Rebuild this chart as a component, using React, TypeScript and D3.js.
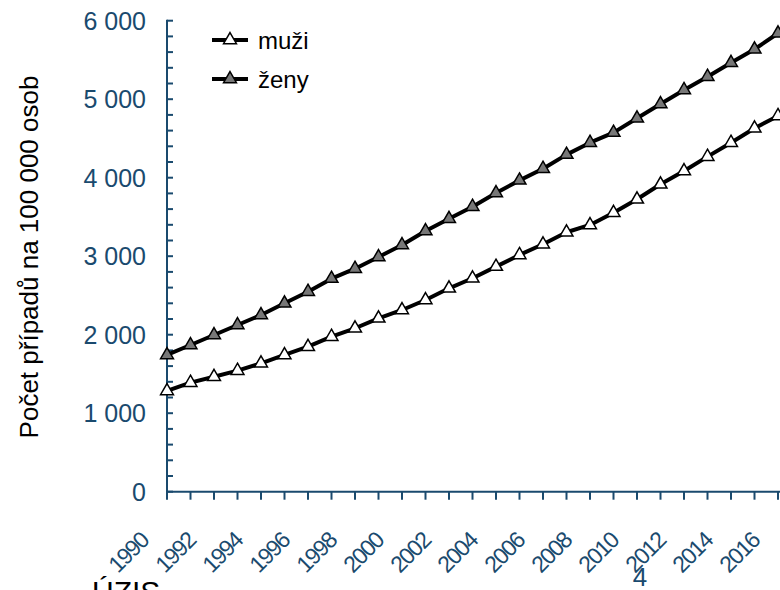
import React from 'react';
import * as d3 from 'd3';

const years = [1990, 1991, 1992, 1993, 1994, 1995, 1996, 1997, 1998, 1999, 2000, 2001, 2002, 2003, 2004, 2005, 2006, 2007, 2008, 2009, 2010, 2011, 2012, 2013, 2014, 2015, 2016];
const muzi = [1283, 1389, 1465, 1542, 1636, 1742, 1847, 1975, 2082, 2209, 2315, 2442, 2591, 2719, 2867, 3016, 3152, 3305, 3398, 3554, 3725, 3916, 4086, 4268, 4446, 4630, 4787];
const zeny = [1742, 1869, 1996, 2124, 2251, 2400, 2548, 2714, 2841, 2990, 3143, 3321, 3477, 3631, 3805, 3966, 4115, 4294, 4446, 4574, 4757, 4939, 5118, 5287, 5465, 5636, 5840];
const yTicks = [0, 1000, 2000, 3000, 4000, 5000, 6000];
const yMinorTicks = d3.range(0, 6001, 200);
const xLabelYears = [1990, 1992, 1994, 1996, 1998, 2000, 2002, 2004, 2006, 2008, 2010, 2012, 2014, 2016];
const seriesNames = ['muži', 'ženy'];
const yTitle = 'Počet případů na 100 000 osob';

const AXIS = '#1a4a6e';
const FONT = '"Liberation Sans", Arial, sans-serif';

export default function App() {
  const x = d3.scaleLinear().domain([1990, 2016]).range([167, 778]);
  const y = d3.scaleLinear().domain([0, 6000]).range([491.7, 20.7]);
  const line = d3.line<number>().x((_, i) => x(years[i])).y((d) => y(d));
  const tri = d3.symbol(d3.symbolTriangle, 72)();
  const fmt = (v: number) => (v >= 1000 ? `${Math.floor(v / 1000)} ${String(v % 1000).padStart(3, '0')}` : String(v));

  const series = [
    { name: seriesNames[0], data: muzi, fill: '#ffffff' },
    { name: seriesNames[1], data: zeny, fill: '#777777' },
  ];

  return (
    <svg width={780} height={590} style={{ position: 'absolute', left: 0, top: 0, background: '#fff' }} fontFamily={FONT}>
      {/* y axis */}
      <line x1={x(1990)} x2={x(1990)} y1={y(6000) - 1} y2={y(0)} stroke={AXIS} strokeWidth={2} />
      {yMinorTicks.map((t) => (
        <line key={'ym' + t} x1={x(1990)} x2={x(1990) + 6} y1={y(t)} y2={y(t)} stroke={AXIS} strokeWidth={2} />
      ))}
      {yTicks.map((t) => (
        <text key={'yl' + t} x={146} y={y(t)} dy="0.36em" textAnchor="end" fontSize={25} fill={AXIS}>
          {fmt(t)}
        </text>
      ))}
      {/* x axis */}
      <line x1={x(1990) - 1} x2={780} y1={y(0)} y2={y(0)} stroke={AXIS} strokeWidth={2} />
      {years.map((yr) => (
        <line key={'xt' + yr} x1={x(yr)} x2={x(yr)} y1={y(0)} y2={y(0) + 8} stroke={AXIS} strokeWidth={2} />
      ))}
      {xLabelYears.map((yr) => (
        <text key={'xl' + yr} transform={`translate(${x(yr) - 17},542) rotate(-45)`} textAnchor="end" fontSize={23} letterSpacing={-1.5} fill={AXIS}>
          {yr}
        </text>
      ))}
      {/* y title */}
      <text transform={`translate(38,257) rotate(-90)`} textAnchor="middle" fontSize={26} fill="#000">
        {yTitle}
      </text>
      {/* series */}
      {series.map((s) => (
        <g key={s.name}>
          <path d={line(s.data) || ''} fill="none" stroke="#000" strokeWidth={4} strokeLinejoin="round" />
          {s.data.map((v, i) => (
            <path key={i} d={tri || ''} transform={`translate(${x(years[i])},${y(v)})`} fill={s.fill} stroke="#000" strokeWidth={1.5} />
          ))}
        </g>
      ))}
      {/* legend */}
      {series.map((s, i) => {
        const ly = 40 + i * 39;
        return (
          <g key={'lg' + s.name}>
            <line x1={212} x2={248} y1={ly} y2={ly} stroke="#000" strokeWidth={4} />
            <path d={tri || ''} transform={`translate(230,${ly})`} fill={s.fill} stroke="#000" strokeWidth={1.5} />
            <text x={258} y={ly + 9} fontSize={24} fill="#000">
              {s.name}
            </text>
          </g>
        );
      })}
      {/* cropped page artifacts */}
      <text x={92} y={602} fontSize={30} fill="#000">ÚZIS</text>
      <text x={640} y={586} textAnchor="middle" fontSize={26} fill={AXIS}>4</text>
    </svg>
  );
}
